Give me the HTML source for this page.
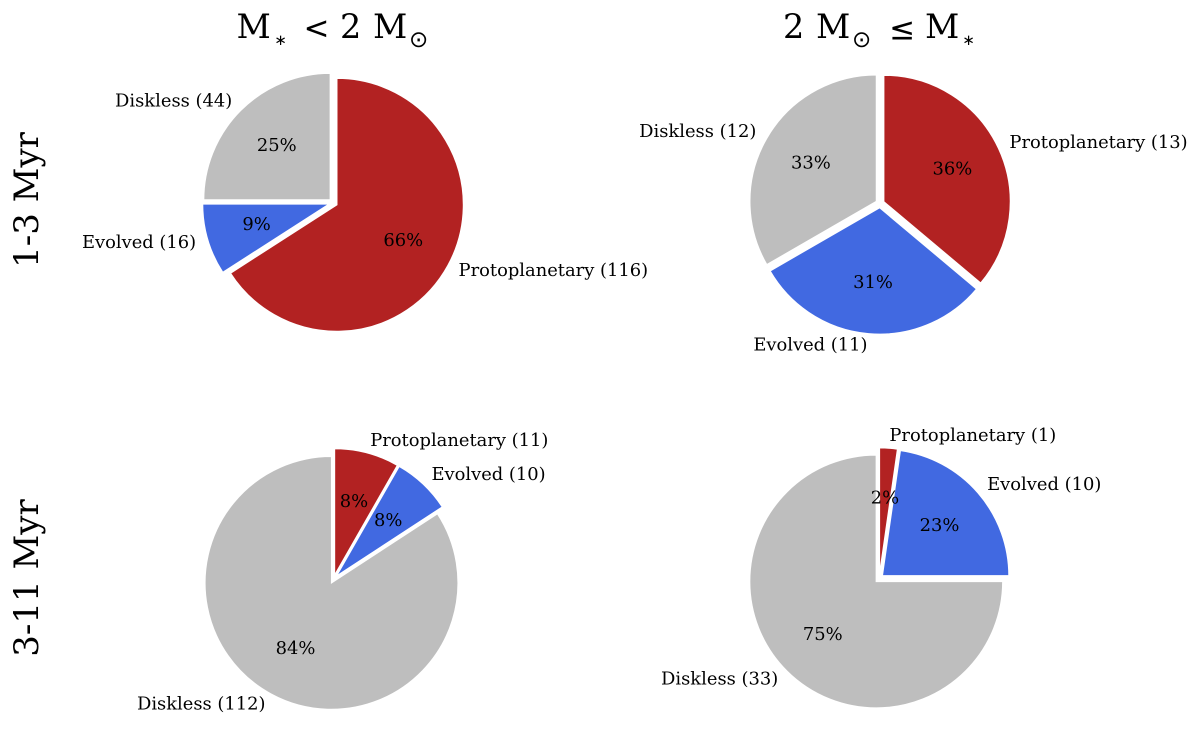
<!DOCTYPE html>
<html lang="en">
<head>
<meta charset="utf-8">
<title>Disk fractions by stellar mass and age</title>
<style>
html,body{margin:0;padding:0;background:#fff;}
svg{display:block;}
text{font-family:"DejaVu Serif","Liberation Serif",serif;fill:#000;}
.ttl{font-size:33.5px;}
.sym{font-family:"DejaVu Sans","Liberation Sans",sans-serif;}
</style>
</head>
<body>
<svg id="chart" xmlns="http://www.w3.org/2000/svg" width="1200" height="747" viewBox="0 0 1200 747">
  <rect width="1200" height="747" fill="#ffffff"/>
  <g>
    <text class="ttl" x="236.500" y="38">M</text>
    <text class="sym" x="274.200" y="45" font-size="15">∗</text>
    <text class="sym" x="303.500" y="38.500" font-size="31">&lt;</text>
    <text class="ttl" x="340" y="38">2</text>
    <text class="ttl" x="373" y="38">M</text>
    <text class="sym" x="409" y="47" font-size="23">⊙</text>
  </g>
  <g>
    <text class="ttl" x="783" y="38">2</text>
    <text class="ttl" x="816" y="38">M</text>
    <text class="sym" x="852" y="47" font-size="23">⊙</text>
    <text class="sym" x="889.300" y="39.500" font-size="31">≤</text>
    <text class="ttl" x="925" y="38">M</text>
    <text class="sym" x="962.200" y="45" font-size="15">∗</text>
  </g>
  <text font-size="34" text-anchor="middle" transform="translate(38,200) rotate(-90)">1-3 Myr</text>
  <text font-size="34" text-anchor="middle" transform="translate(38,578) rotate(-90)">3-11 Myr</text>
  <g id="pies"></g>
</svg>
<script>
const categories = ['Protoplanetary', 'Evolved', 'Diskless'];
const youngLowMass = [116, 16, 44];
const youngHighMass = [13, 11, 12];
const oldLowMass = [11, 10, 112];
const oldHighMass = [1, 10, 33];
const sliceColors = ['#b22222', '#4169e1', '#bebebe'];

const NS = 'http://www.w3.org/2000/svg';
const root = document.getElementById('pies');
const RADIUS = 126.5;
const EXPLODE = 4.2;
const PCT_DIST = 0.6;
const LABEL_DIST = 1.1;
const FONT = 17.9;

function angleToPoint(cx, cy, r, frac) {
  const a = frac * 2 * Math.PI;
  return [cx + r * Math.sin(a), cy - r * Math.cos(a)];
}

function drawPie(name, values, cx, cy) {
  const total = values.reduce(function (s, v) { return s + v; }, 0);
  const g = document.createElementNS(NS, 'g');
  
  
  root.appendChild(g);
  let start = 0;
  const texts = [];
  values.forEach(function (v, i) {
    const frac = v / total;
    const end = start + frac;
    const mid = start + frac / 2;
    const apex = angleToPoint(cx, cy, EXPLODE, mid);
    const p0 = angleToPoint(apex[0], apex[1], RADIUS, start);
    const p1 = angleToPoint(apex[0], apex[1], RADIUS, end);
    const path = document.createElementNS(NS, 'path');
    path.setAttribute('d', 'M' + apex[0] + ' ' + apex[1] + 'L' + p0[0] + ' ' + p0[1] +
      'A' + RADIUS + ' ' + RADIUS + ' 0 ' + (frac > 0.5 ? 1 : 0) + ' 1 ' + p1[0] + ' ' + p1[1] + 'Z');
    path.setAttribute('fill', sliceColors[i]);
    path.setAttribute('stroke', '#ffffff');
    path.setAttribute('stroke-width', '1.2');
    path.setAttribute('stroke-linejoin', 'miter');
    
    
    g.appendChild(path);
    texts.push({ i: i, v: v, frac: frac, mid: mid, apex: apex });
    start = end;
  });
  texts.forEach(function (t) {
    const lp = angleToPoint(t.apex[0], t.apex[1], 126 * LABEL_DIST, t.mid);
    const label = document.createElementNS(NS, 'text');
    label.textContent = categories[t.i] + ' (' + t.v + ')';
    label.setAttribute('x', lp[0]);
    label.setAttribute('y', lp[1] + FONT * 0.27);
    label.setAttribute('font-size', FONT);
    label.setAttribute('text-anchor', lp[0] > cx ? 'start' : 'end');
    
    
    g.appendChild(label);
    const pp = angleToPoint(t.apex[0], t.apex[1], 126 * PCT_DIST, t.mid);
    const pct = document.createElementNS(NS, 'text');
    pct.textContent = Math.round(t.frac * 100) + '%';
    pct.setAttribute('x', pp[0]);
    pct.setAttribute('y', pp[1] + FONT * 0.27);
    pct.setAttribute('font-size', FONT);
    pct.setAttribute('text-anchor', 'middle');
    
    
    g.appendChild(pct);
  });
}

drawPie('pie-young-low-mass', youngLowMass, 333.2, 202.8);
drawPie('pie-young-high-mass', youngHighMass, 880, 203.5);
drawPie('pie-old-low-mass', oldLowMass, 333.5, 579.2);
drawPie('pie-old-high-mass', oldHighMass, 879.2, 578.5);
</script>
</body>
</html>
